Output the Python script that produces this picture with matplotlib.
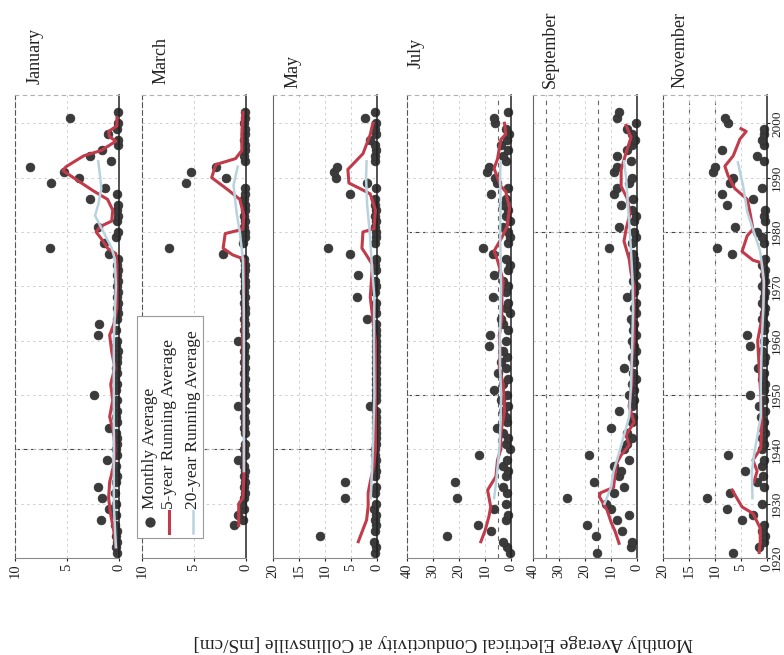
import numpy as np
import matplotlib.pyplot as plt
from matplotlib.patches import Rectangle
from matplotlib.lines import Line2D

plt.rcParams['font.family'] = ['Liberation Serif', 'DejaVu Serif']

nan = np.nan
years = np.arange(1921, 2003)

# monthly average conductivity [mS/cm], one value per year 1921-2002
jan = [0.2, 0.3, 0.2, 0.3, 0.2, 0.4, 1.7, 0.3, 1.0, 0.3,
       1.6, 0.4, 2.0, 0.3, 0.2, 0.4, 0.3, 1.2, 0.2, 0.3,
       0.2, 0.2, 0.3, 1.0, 0.2, 0.3, 0.2, 0.4, 0.2, 2.4,
       0.3, 0.2, 0.4, 0.2, 0.3, 0.2, 0.2, 0.1, 0.3, 0.2,
       2.0, 0.3, 1.9, 0.2, 0.1, 0.2, 0.1, 0.2, 0.1, 0.2,
       0.1, 0.2, 0.1, 0.2, 0.1, 1.0, 6.6, 1.4, 0.3, 0.1,
       2.0, 0.2, 0.1, 0.2, 0.1, 2.8, 0.2, 1.3, 6.5, 3.8,
       5.3, 8.6, 0.8, 2.8, 1.6, 0.1, 0.1, 1.1, 0.2, 0.1,
       4.7, 0.1]
mar = [nan, nan, nan, nan, nan, 1.2, 0.3, 0.8, 0.2, 0.4,
       0.2, 0.1, 0.2, 0.1, 0.2, 0.1, 0.2, 0.8, 0.1, 0.2,
       0.1, nan, 0.1, 0.2, 0.1, 0.2, 0.1, 0.8, 0.1, 0.2,
       0.1, 0.2, 0.1, 0.2, 0.1, 0.2, 0.1, 0.2, 0.1, 0.8,
       0.1, 0.2, 0.1, 0.2, 0.1, 0.1, 0.2, 0.1, 0.2, 0.1,
       0.1, 0.2, 0.1, 0.1, 0.2, 2.2, 7.4, 0.3, 0.1, 0.1,
       0.2, 0.1, 0.2, 0.1, 0.1, 0.2, 0.1, 0.1, 5.8, 1.9,
       5.3, 2.9, 0.1, 0.2, 0.1, 0.1, 0.2, 0.1, 0.1, 0.2,
       0.1, 0.1]
may = [0.3, 0.2, 0.5, 11.0, 0.3, 0.2, 0.4, 0.2, 0.6, 0.2,
       6.2, 0.3, 0.2, 6.2, 0.4, 0.2, 0.3, 0.2, 0.3, 0.4,
       0.2, 0.1, 0.2, 0.1, 0.2, 0.1, 0.2, 1.3, 0.2, 0.1,
       0.2, 0.1, 0.2, 0.1, 0.2, 0.1, 0.2, 0.1, 0.2, 0.1,
       0.2, 0.1, 0.2, 2.0, 0.2, 0.3, 0.2, 3.9, 0.3, 0.2,
       0.3, 3.6, 0.2, 0.3, 0.2, 5.2, 9.4, 0.3, 0.2, 0.2,
       0.3, 0.2, 0.3, 0.2, 0.3, 0.3, 5.2, 0.2, 2.0, 7.9,
       8.3, 7.7, 0.3, 0.4, 0.2, 0.3, 1.3, 0.2, 0.3, 0.2,
       2.3, 0.4]
jul = [0.5, 1.5, 3.0, 24.5, 7.8, 12.8, 2.0, 1.0, 6.6, 2.0,
       20.6, 1.5, 3.0, 21.4, 2.0, 1.0, 3.0, 1.5, 12.4, 0.5,
       2.0, 1.0, 3.0, 5.2, 1.5, 2.0, 3.0, 1.0, 4.0, 1.5,
       6.6, 3.0, 1.0, 5.0, 2.0, 4.0, 1.5, 3.0, 8.5, 2.0,
       8.0, 1.0, 3.0, 3.9, 0.5, 2.0, 1.0, 7.0, 2.0, 1.0,
       3.0, 6.6, 1.0, 0.5, 2.0, 7.0, 10.9, 1.0, 0.5, 1.0,
       3.0, 0.5, 2.0, 1.0, 3.0, 2.0, 7.8, 1.0, 5.4, 6.0,
       9.3, 8.5, 2.0, 3.0, 1.0, 4.0, 1.5, 0.6, 2.0, 6.0,
       6.6, 1.0]
sep = [15.2, 2.5, 1.9, 15.6, 5.7, 19.4, 7.6, 3.0, 10.0, 12.0,
       27.0, 8.8, 5.0, 16.4, 7.0, 6.1, 9.0, 3.0, 18.3, 5.0,
       3.8, 2.0, 4.0, 9.9, 2.0, 1.5, 6.9, 2.0, 1.0, 3.0,
       1.0, 2.0, 0.5, 1.5, 5.0, 1.0, 1.9, 0.5, 1.0, 2.0,
       0.5, 1.5, 1.0, 2.3, 0.5, 1.0, 0.5, 3.8, 1.0, 0.5,
       1.5, 0.5, 1.0, 0.5, 1.0, 1.5, 10.7, 2.0, 0.5, 1.0,
       6.9, 1.0, 0.5, 2.0, 6.1, 1.5, 8.8, 7.6, 3.0, 2.0,
       8.8, 7.6, 2.3, 7.6, 4.0, 2.0, 0.8, 2.0, 3.8, 0.5,
       7.6, 7.0]
nov = [6.5, 1.5, 0.5, 0.3, 1.0, 0.5, 4.8, 2.7, 7.7, 1.0,
       11.5, 7.1, 0.5, 1.9, 0.8, 4.2, 1.0, 0.5, 7.5, 1.0,
       0.5, 1.0, 0.3, 1.0, 0.5, 1.2, 0.3, 1.5, 0.5, 3.3,
       0.5, 0.3, 1.0, 0.5, 1.7, 0.5, 0.3, 1.0, 3.3, 0.5,
       3.8, 0.5, 0.3, 1.0, 0.5, 0.3, 1.0, 0.5, 0.3, 1.0,
       0.3, 0.5, 0.3, 1.0, 0.3, 6.7, 9.6, 0.5, 1.0, 1.9,
       6.2, 0.3, 0.5, 0.3, 7.7, 2.7, 8.7, 1.0, 7.1, 6.5,
       10.4, 10.0, 0.5, 1.9, 8.7, 0.5, 1.0, 0.5, 0.5, 7.5,
       8.1, nan]

# 5-year running averages (red)
jan_5y_years = [1922, 1925, 1928, 1931, 1934, 1937, 1940, 1943, 1946, 1949,
                1952, 1955, 1958, 1961, 1963, 1966, 1970, 1974, 1976, 1977,
                1978.5, 1980, 1981, 1982, 1984, 1986, 1987.6, 1989.5, 1991.3,
                1992, 1994, 1995, 1996.7, 1997.5, 1998.5, 1999.5, 2001]
jan_5y = [0.3, 0.5, 0.8, 1.0, 0.9, 0.5, 0.4, 0.5, 0.9, 0.6,
          0.8, 0.4, 0.7, 0.9, 0.5, 0.2, 0.2, 0.2, 0.3, 1.1,
          1.6, 2.2, 1.8, 0.7, 0.6, 1.1, 2.5, 4.0, 5.4,
          5.1, 3.4, 1.7, 0.3, 0.9, 1.0, 0.2, 0.2]
mar_5y_years = [1926, 1928, 1930, 1931, 1935, 1941, 1942, 1943, 1950, 1960,
                1970, 1975, 1975.8, 1977, 1979.7, 1980.5, 1983, 1986, 1987.7,
                1990, 1992.4, 1993.5, 1995, 1998, 2002]
mar_5y = [0.7, 0.7, 0.7, 0.3, 0.2, 0.2, nan, 0.2, 0.2, 0.3,
          0.2, 0.2, 1.3, 2.2, 2.0, 0.3, 0.2, 0.6, 1.7,
          3.3, 2.9, 1.0, 0.4, 0.4, 0.3]
may_5y_years = [1923, 1925, 1927, 1929.5, 1932, 1934, 1937, 1940, 1945, 1950,
                1955, 1960, 1964, 1968, 1972, 1974, 1975.7, 1977, 1980, 1980.6,
                1984, 1987, 1988, 1989, 1991.5, 1994.4, 1997.9, 2000]
may_5y = [3.6, 2.8, 2.0, 1.7, 1.7, 1.3, 0.6, 0.3, 0.3, 0.3,
          0.2, 0.3, 0.8, 1.3, 1.0, 0.9, 2.0, 2.9, 2.7, 0.6,
          0.3, 1.3, 3.3, 5.4, 5.6, 2.7, 1.3, 0.8]
jul_5y_years = [1923, 1925, 1927.6, 1929.4, 1932.5, 1935, 1938, 1940, 1943, 1947,
                1952, 1955, 1958, 1961, 1964, 1968, 1971, 1974.8, 1976.5, 1979,
                1981, 1984.3, 1987.4, 1988.5, 1990, 1991.7, 1993.4, 1997, 1998, 2000]
jul_5y = [11.6, 10.0, 8.5, 7.8, 9.0, 5.8, 5.2, 3.9, 3.9, 2.5,
          3.0, 4.5, 4.2, 4.5, 3.5, 3.5, 3.0, 5.2, 6.5, 3.5,
          1.5, 0.6, 2.0, 4.0, 5.2, 6.5, 5.2, 3.9, 2.0, 2.5]
sep_5y_years = [1922.7, 1925, 1926.5, 1928.8, 1931.3, 1932, 1933, 1937.3, 1939, 1940.8,
                1942.6, 1945, 1948, 1952, 1956, 1960, 1965, 1970, 1972.5, 1975,
                1978.3, 1980.5, 1983.4, 1986.2, 1988.4, 1991.4, 1994.6, 1997.4, 1999.6]
sep_5y = [6.9, 8.5, 9.9, 11.5, 14.5, 14.0, 9.0, 8.0, 6.0, 3.0,
          4.2, 1.1, 3.0, 2.0, 2.0, 1.2, 1.2, 1.1, 2.3, 3.0,
          5.0, 4.2, 2.7, 3.8, 6.1, 6.1, 4.2, 2.3, 4.2]
nov_5y_years = [1921, 1923, 1925.5, 1928.2, 1929.4, 1932.5, 1933, 1934, 1936, 1938,
                1940.2, 1945, 1950, 1955, 1960, 1965, 1970, 1974.3, 1974.8, 1976.4,
                1979.3, 1980.5, 1983.7, 1986, 1988, 1990.4, 1992.1, 1994, 1997.1,
                1998.5, 1999]
nov_5y = [1.5, 1.3, 1.3, 2.7, 4.8, 6.7, nan, 2.5, 1.9, 2.7,
          1.2, 1.0, 1.2, 1.5, 1.8, 0.8, 0.6, 1.0, 2.7, 4.8,
          3.8, 2.7, 3.3, 3.8, 6.2, 7.5, 8.1, 6.5, 5.2,
          4.0, 5.0]

# 20-year running averages (light blue)
jan_20y_years = [1922, 1930, 1940, 1950, 1960, 1970, 1975, 1977, 1980, 1983,
                 1985, 1988, 1990, 1993]
jan_20y = [0.3, 0.5, 0.5, 0.5, 0.5, 0.3, 0.4, 0.7, 1.5, 2.3,
           2.0, 1.7, 1.8, 2.0]
mar_20y_years = [1936, 1945, 1955, 1965, 1975, 1980, 1983.5, 1988.6, 1992]
mar_20y = [0.2, 0.2, 0.2, 0.2, 0.3, 0.6, 0.9, 1.2, 0.8]
may_20y_years = [1931, 1940, 1950, 1960, 1968, 1974, 1980, 1985, 1990, 1993]
may_20y = [1.2, 0.8, 0.5, 0.6, 0.5, 1.0, 1.4, 1.9, 2.1, 2.0]
jul_20y_years = [1931, 1935, 1940, 1945, 1950, 1955, 1960, 1965, 1970, 1975,
                 1980, 1985, 1990, 1993]
jul_20y = [6.5, 5.5, 4.5, 4.0, 3.8, 4.2, 4.3, 4.0, 3.8, 4.0,
           4.2, 4.0, 4.2, 4.0]
sep_20y_years = [1930, 1933, 1936, 1940, 1946, 1952, 1960, 1966, 1972, 1978,
                 1985, 1990, 1993]
sep_20y = [12.5, 10.0, 9.0, 6.5, 3.0, 2.3, 1.8, 1.5, 1.8, 2.5,
           3.5, 4.2, 5.0]
nov_20y_years = [1931, 1936, 1939, 1946, 1952, 1960, 1966, 1971, 1976.4, 1980.5,
                 1983.7, 1988.5, 1992.8]
nov_20y = [2.8, 2.9, 2.5, 1.2, 1.2, 1.0, 0.7, 0.6, 1.3, 2.7,
           3.8, 4.6, 5.6]

months = ['January', 'March', 'May', 'July', 'September', 'November']
monthly = [jan, mar, may, jul, sep, nov]
avg5 = [(jan_5y_years, jan_5y), (mar_5y_years, mar_5y), (may_5y_years, may_5y),
        (jul_5y_years, jul_5y), (sep_5y_years, sep_5y), (nov_5y_years, nov_5y)]
avg20 = [(jan_20y_years, jan_20y), (mar_20y_years, mar_20y), (may_20y_years, may_20y),
         (jul_20y_years, jul_20y), (sep_20y_years, sep_20y), (nov_20y_years, nov_20y)]
xmax = [10, 10, 20, 40, 40, 20]
xticks = [[10, 5, 0], [10, 5, 0], [20, 15, 10, 5, 0],
          [40, 30, 20, 10, 0], [40, 30, 20, 10, 0], [20, 15, 10, 5, 0]]

DOT = '#3b3b3b'
RED = '#c23b4b'
BLUE = '#b9d3de'

W, H = 784, 655
fig = plt.figure(figsize=(W / 100, H / 100), dpi=100)

# panel geometry in pixels: left edge, title centre x, title bottom y
lefts = [15, 142, 273, 407, 533, 663]
title_x = [35, 161, 293, 416, 550, 680]
title_y = [84, 84, 88, 68, 88, 88]
marked_years = [[1940], [1940], [1940], [1950, 1980], [1950, 1980], [1950, 1980]]
marked_values = [[], [], [], [5], [35, 15], [15, 10]]
left_dashed = [True, True, False, True, False, True]
top_px, bottom_px, width_px = 95, 558, 104

for i, name in enumerate(months):
    ax = fig.add_axes([lefts[i] / W, 1 - bottom_px / H,
                       width_px / W, (bottom_px - top_px) / H])
    ax.set_xlim(xmax[i], 0)
    ax.set_ylim(1920.5, 2005.2)
    ax.set_xticks(xticks[i])
    ax.set_yticks(np.arange(1920, 2001, 10))
    ax.grid(True, ls=(0, (3, 4)), color='#c8c8c8', lw=0.6)
    for yr in marked_years[i]:
        ax.axhline(yr, color='#444444', ls=(0, (4, 3)), lw=0.8, zorder=1)
    for v in marked_values[i]:
        ax.axvline(v, color='#666666', ls=(0, (4, 4)), lw=0.8, zorder=1)

    # values run horizontally, years vertically
    ax.plot(monthly[i], years, 'o', ms=6.4, color=DOT, mec='#2e2e2e', mew=0.4,
            zorder=2, clip_on=False)
    ax.plot(avg5[i][1], avg5[i][0], color=RED, lw=2.2, zorder=3)
    ax.plot(avg20[i][1], avg20[i][0], color=BLUE, lw=1.8, zorder=4)

    for side in ['left', 'top', 'bottom']:
        ax.spines[side].set_color('#8a8a8a')
        ax.spines[side].set_linewidth(0.8)
    if left_dashed[i]:
        ax.spines['left'].set_linestyle((0, (4, 3)))
        ax.spines['left'].set_color('#555555')
    else:
        ax.spines['left'].set_color('#666666')
    ax.spines['top'].set_linestyle((0, (3, 4)))
    ax.spines['top'].set_color('#b0b0b0')
    ax.spines['right'].set_color('#222222')
    ax.spines['right'].set_linewidth(1.1)

    ax.tick_params(axis='x', labelrotation=90, labelsize=10.5, length=2,
                   pad=2, colors='#222222')
    if i == len(months) - 1:
        ax.yaxis.tick_right()
        ax.tick_params(axis='y', labelrotation=90, labelsize=9.5, length=2,
                       pad=1, colors='#222222')
        for lab in ax.get_yticklabels():
            lab.set_va('center')
    else:
        ax.tick_params(axis='y', left=False, labelleft=False)

    fig.text(title_x[i] / W, 1 - title_y[i] / H, name, rotation=90,
             ha='center', va='bottom', fontsize=13, color='#222222')

# legend box drawn sideways over the second panel
fig.add_artist(Rectangle((137 / W, 1 - 538 / H), 66 / W, 222 / H,
                         transform=fig.transFigure, facecolor='white',
                         edgecolor='#9a9a9a', lw=0.8, zorder=5))
fig.add_artist(Line2D([150 / W], [1 - 522 / H], marker='o', ms=6.4, color=DOT,
                      transform=fig.transFigure, zorder=6))
fig.add_artist(Line2D([169 / W] * 2, [1 - 533 / H, 1 - 511 / H], color=RED,
                      lw=2.2, transform=fig.transFigure, zorder=6))
fig.add_artist(Line2D([193 / W] * 2, [1 - 533 / H, 1 - 511 / H], color=BLUE,
                      lw=1.8, transform=fig.transFigure, zorder=6))
legend_labels = ['Monthly Average', '5-year Running Average', '20-year Running Average']
for x, lab in zip([150, 169, 193], legend_labels):
    fig.text(x / W, 1 - 509 / H, lab, rotation=90, ha='center', va='bottom',
             fontsize=12.5, color='#222222', zorder=7)

fig.text(443 / W, 1 - 642 / H,
         'Monthly Average Electrical Conductivity at Collinsville [mS/cm]',
         rotation=180, ha='center', va='center', fontsize=13.8, color='#222222')

fig.savefig('out.png', dpi=100)
